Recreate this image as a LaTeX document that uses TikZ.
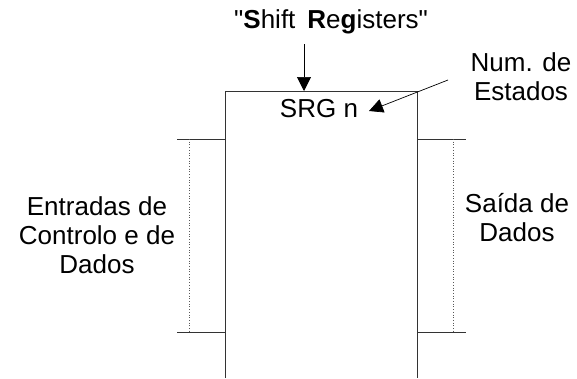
\documentclass[tikz,border=0pt]{standalone}
\usepackage{fontspec}
\setmainfont{Liberation Sans}
\usetikzlibrary{arrows.meta}
\begin{document}
\begin{tikzpicture}[x=1pt,y=-1pt,
  lbl/.style={font=\fontsize{26}{29}\selectfont, inner sep=0pt, align=center},
  wire/.style={line width=0.9pt, draw=black!80},
  dots/.style={line width=0.7pt, dotted, draw=black!65},
  pointer/.style={line width=0.7pt, -{Triangle[length=14pt,width=14pt]}}]
\useasboundingbox (0,0) rectangle (577,378);
% box (open at the bottom)
\coordinate (bl) at (225,378);
\coordinate (tl) at (225,91);
\coordinate (tr) at (417,91);
\coordinate (br) at (417,378);
\draw[wire] (bl) -- (tl) -- (tr) -- (br);
% left side
\coordinate (la) at (177,139);
\coordinate (lb) at (225,139);
\coordinate (lc) at (177,332);
\coordinate (ld) at (225,332);
\coordinate (lda) at (189,139);
\coordinate (ldb) at (189,332);
\draw[wire] (la) -- (lb);
\draw[wire] (lc) -- (ld);
\draw[dots] (lda) -- (ldb);
% right side
\coordinate (ra) at (417,139);
\coordinate (rb) at (466,139);
\coordinate (rc) at (417,332);
\coordinate (rd) at (466,332);
\coordinate (rda) at (453,139);
\coordinate (rdb) at (453,332);
\draw[wire] (ra) -- (rb);
\draw[wire] (rc) -- (rd);
\draw[dots] (rda) -- (rdb);
% texts
\node[lbl, anchor=base west] (title) at (234,28) {\textquotedbl\textbf{S}hift\hspace{12pt}\textbf{R}e\textbf{g}isters\textquotedbl};
\node[lbl, anchor=base] (srg) at (319,117) {SRG n};
\node[lbl, anchor=north] (num) at (521,52) {Num. de\\Estados};
\node[lbl, anchor=north] (ent) at (97,196) {Entradas de\\Controlo e de\\Dados};
\node[lbl, anchor=north] (sai) at (517,193) {Saída de\\Dados};
% arrows
\coordinate (topin) at (304,91);
\coordinate (topout) at (304,44);
\draw[pointer] (topout) -- (topin);
\coordinate (numout) at (448,80);
\coordinate (numin) at (369,111);
\draw[pointer] (numout) -- (numin);
\end{tikzpicture}
\end{document}
